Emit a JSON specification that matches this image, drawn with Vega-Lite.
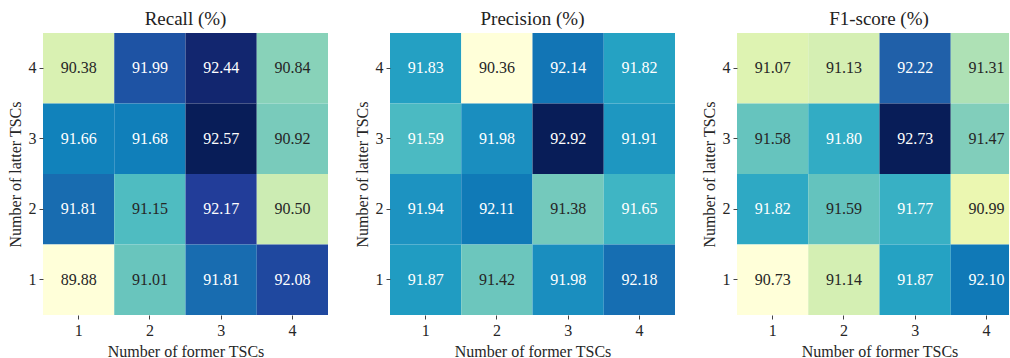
{
  "$schema": "https://vega.github.io/schema/vega-lite/v6.json",
  "padding": {"left": 7, "top": 10, "right": 0, "bottom": 0},
  "background": "white",
  "spacing": 26,
  "config": {
    "view": {"stroke": null},
    "font": "Liberation Serif",
    "text": {"font": "Liberation Serif"},
    "title": {"font": "Liberation Serif", "fontSize": 19, "fontWeight": "normal", "color": "#222222", "offset": 4},
    "axis": {
      "labelFont": "Liberation Serif", "titleFont": "Liberation Serif",
      "labelFontSize": 16, "titleFontSize": 16, "titleFontWeight": "normal",
      "labelColor": "#262626", "titleColor": "#262626",
      "tickColor": "#444444", "tickSize": 4, "tickWidth": 1,
      "labelPadding": 3, "titlePadding": 5, "domain": false, "grid": false, "labelAngle": 0
    }
  },
  "datasets": {
    "cells": [
      {"metric": "Recall", "former": 1, "latter": 4, "value": 90.38},
      {"metric": "Recall", "former": 2, "latter": 4, "value": 91.99},
      {"metric": "Recall", "former": 3, "latter": 4, "value": 92.44},
      {"metric": "Recall", "former": 4, "latter": 4, "value": 90.84},
      {"metric": "Recall", "former": 1, "latter": 3, "value": 91.66},
      {"metric": "Recall", "former": 2, "latter": 3, "value": 91.68},
      {"metric": "Recall", "former": 3, "latter": 3, "value": 92.57},
      {"metric": "Recall", "former": 4, "latter": 3, "value": 90.92},
      {"metric": "Recall", "former": 1, "latter": 2, "value": 91.81},
      {"metric": "Recall", "former": 2, "latter": 2, "value": 91.15},
      {"metric": "Recall", "former": 3, "latter": 2, "value": 92.17},
      {"metric": "Recall", "former": 4, "latter": 2, "value": 90.50},
      {"metric": "Recall", "former": 1, "latter": 1, "value": 89.88},
      {"metric": "Recall", "former": 2, "latter": 1, "value": 91.01},
      {"metric": "Recall", "former": 3, "latter": 1, "value": 91.81},
      {"metric": "Recall", "former": 4, "latter": 1, "value": 92.08},
      {"metric": "Precision", "former": 1, "latter": 4, "value": 91.83},
      {"metric": "Precision", "former": 2, "latter": 4, "value": 90.36},
      {"metric": "Precision", "former": 3, "latter": 4, "value": 92.14},
      {"metric": "Precision", "former": 4, "latter": 4, "value": 91.82},
      {"metric": "Precision", "former": 1, "latter": 3, "value": 91.59},
      {"metric": "Precision", "former": 2, "latter": 3, "value": 91.98},
      {"metric": "Precision", "former": 3, "latter": 3, "value": 92.92},
      {"metric": "Precision", "former": 4, "latter": 3, "value": 91.91},
      {"metric": "Precision", "former": 1, "latter": 2, "value": 91.94},
      {"metric": "Precision", "former": 2, "latter": 2, "value": 92.11},
      {"metric": "Precision", "former": 3, "latter": 2, "value": 91.38},
      {"metric": "Precision", "former": 4, "latter": 2, "value": 91.65},
      {"metric": "Precision", "former": 1, "latter": 1, "value": 91.87},
      {"metric": "Precision", "former": 2, "latter": 1, "value": 91.42},
      {"metric": "Precision", "former": 3, "latter": 1, "value": 91.98},
      {"metric": "Precision", "former": 4, "latter": 1, "value": 92.18},
      {"metric": "F1", "former": 1, "latter": 4, "value": 91.07},
      {"metric": "F1", "former": 2, "latter": 4, "value": 91.13},
      {"metric": "F1", "former": 3, "latter": 4, "value": 92.22},
      {"metric": "F1", "former": 4, "latter": 4, "value": 91.31},
      {"metric": "F1", "former": 1, "latter": 3, "value": 91.58},
      {"metric": "F1", "former": 2, "latter": 3, "value": 91.80},
      {"metric": "F1", "former": 3, "latter": 3, "value": 92.73},
      {"metric": "F1", "former": 4, "latter": 3, "value": 91.47},
      {"metric": "F1", "former": 1, "latter": 2, "value": 91.82},
      {"metric": "F1", "former": 2, "latter": 2, "value": 91.59},
      {"metric": "F1", "former": 3, "latter": 2, "value": 91.77},
      {"metric": "F1", "former": 4, "latter": 2, "value": 90.99},
      {"metric": "F1", "former": 1, "latter": 1, "value": 90.73},
      {"metric": "F1", "former": 2, "latter": 1, "value": 91.14},
      {"metric": "F1", "former": 3, "latter": 1, "value": 91.87},
      {"metric": "F1", "former": 4, "latter": 1, "value": 92.10}
    ]
  },
  "hconcat": [
    {
      "title": {"text": "Recall (%)"},
      "width": 285, "height": 282,
      "data": {"name": "cells"},
      "transform": [{"filter": "datum.metric === 'Recall'"}],
      "encoding": {
        "x": {"field": "former", "type": "ordinal", "title": "Number of former TSCs", "scale": {"paddingInner": 0, "paddingOuter": 0}},
        "y": {"field": "latter", "type": "ordinal", "sort": "descending", "title": "Number of latter TSCs", "scale": {"paddingInner": 0, "paddingOuter": 0}}
      },
      "layer": [
        {"mark": {"type": "rect"}, "encoding": {"color": {"field": "value", "type": "quantitative", "legend": null, "scale": {"type": "linear", "domain": [89.88, 92.57], "range": ["#ffffd9","#edf8b1","#c7e9b4","#7fcdbb","#41b6c4","#1d91c0","#225ea8","#253494","#081d58"]}}}},
        {"mark": {"type": "text", "fontSize": 16, "font": "Liberation Serif"}, "encoding": {"text": {"field": "value", "type": "quantitative", "format": ".2f"}, "color": {"condition": {"test": "datum.value > 91.4", "value": "#ffffff"}, "value": "#262626"}}}
      ],
      "resolve": {"scale": {"color": "independent"}}
    },
    {
      "title": {"text": "Precision (%)"},
      "width": 285, "height": 282,
      "data": {"name": "cells"},
      "transform": [{"filter": "datum.metric === 'Precision'"}],
      "encoding": {
        "x": {"field": "former", "type": "ordinal", "title": "Number of former TSCs", "scale": {"paddingInner": 0, "paddingOuter": 0}},
        "y": {"field": "latter", "type": "ordinal", "sort": "descending", "title": "Number of latter TSCs", "scale": {"paddingInner": 0, "paddingOuter": 0}}
      },
      "layer": [
        {"mark": {"type": "rect"}, "encoding": {"color": {"field": "value", "type": "quantitative", "legend": null, "scale": {"type": "linear", "domain": [90.36, 92.92], "range": ["#ffffd9","#edf8b1","#c7e9b4","#7fcdbb","#41b6c4","#1d91c0","#225ea8","#253494","#081d58"]}}}},
        {"mark": {"type": "text", "fontSize": 16, "font": "Liberation Serif"}, "encoding": {"text": {"field": "value", "type": "quantitative", "format": ".2f"}, "color": {"condition": {"test": "datum.value > 91.5", "value": "#ffffff"}, "value": "#262626"}}}
      ],
      "resolve": {"scale": {"color": "independent"}}
    },
    {
      "title": {"text": "F1-score (%)", "dx": 6},
      "width": 272, "height": 282,
      "data": {"name": "cells"},
      "transform": [{"filter": "datum.metric === 'F1'"}],
      "encoding": {
        "x": {"field": "former", "type": "ordinal", "title": "Number of former TSCs", "scale": {"paddingInner": 0, "paddingOuter": 0, "range": [0, 285]}},
        "y": {"field": "latter", "type": "ordinal", "sort": "descending", "title": "Number of latter TSCs", "scale": {"paddingInner": 0, "paddingOuter": 0}}
      },
      "layer": [
        {"mark": {"type": "rect", "clip": true}, "encoding": {"color": {"field": "value", "type": "quantitative", "legend": null, "scale": {"type": "linear", "domain": [90.73, 92.73], "range": ["#ffffd9","#edf8b1","#c7e9b4","#7fcdbb","#41b6c4","#1d91c0","#225ea8","#253494","#081d58"]}}}},
        {"mark": {"type": "text", "fontSize": 16, "font": "Liberation Serif", "clip": true}, "encoding": {"text": {"field": "value", "type": "quantitative", "format": ".2f"}, "color": {"condition": {"test": "datum.value > 91.7", "value": "#ffffff"}, "value": "#262626"}}}
      ],
      "resolve": {"scale": {"color": "independent"}}
    }
  ],
  "resolve": {"scale": {"color": "independent", "x": "independent", "y": "independent"}}
}
